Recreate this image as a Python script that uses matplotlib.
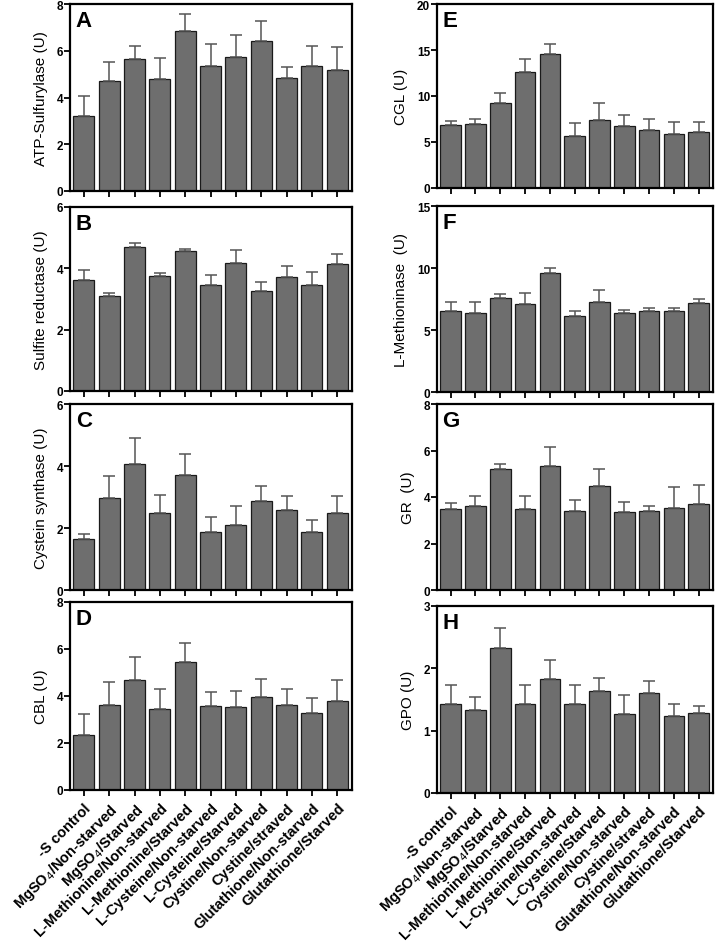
import matplotlib
matplotlib.use("Agg")
import matplotlib.pyplot as plt
import numpy as np

plt.rcParams["font.family"] = ["Liberation Sans", "DejaVu Sans"]

categories = [
    "-S control",
    "MgSO$_4$/Non-starved",
    "MgSO$_4$/Starved",
    "L-Methionine/Non-starved",
    "L-Methionine/Starved",
    "L-Cysteine/Non-starved",
    "L-Cysteine/Starved",
    "Cystine/Non-starved",
    "Cystine/straved",
    "Glutathione/Non-starved",
    "Glutathione/Starved",
]

# means and upper error bar tops
atp_mean = [3.20, 4.69, 5.66, 4.79, 6.83, 5.34, 5.73, 6.40, 4.84, 5.34, 5.16]
atp_top = [4.08, 5.51, 6.22, 5.69, 7.59, 6.29, 6.69, 7.29, 5.32, 6.22, 6.15]

sir_mean = [3.63, 3.10, 4.71, 3.75, 4.56, 3.45, 4.18, 3.26, 3.73, 3.45, 4.14]
sir_top = [3.95, 3.20, 4.82, 3.85, 4.63, 3.77, 4.59, 3.57, 4.06, 3.89, 4.47]

cs_mean = [1.65, 2.97, 4.08, 2.48, 3.70, 1.88, 2.11, 2.86, 2.59, 1.88, 2.50]
cs_top = [1.80, 3.67, 4.89, 3.05, 4.39, 2.36, 2.71, 3.35, 3.03, 2.27, 3.03]

cbl_mean = [2.32, 3.60, 4.69, 3.46, 5.43, 3.58, 3.53, 3.97, 3.60, 3.26, 3.77]
cbl_top = [3.23, 4.58, 5.65, 4.30, 6.24, 4.15, 4.20, 4.74, 4.31, 3.90, 4.67]

cgl_mean = [6.90, 6.93, 9.22, 12.56, 14.52, 5.70, 7.44, 6.79, 6.28, 5.92, 6.06]
cgl_top = [7.26, 7.51, 10.31, 14.01, 15.68, 7.08, 9.26, 7.95, 7.55, 7.19, 7.22]

met_mean = [6.54, 6.41, 7.59, 7.11, 9.57, 6.16, 7.22, 6.38, 6.51, 6.57, 7.14]
met_top = [7.22, 7.27, 7.92, 7.97, 9.97, 6.57, 8.22, 6.62, 6.81, 6.81, 7.51]

gr_mean = [3.47, 3.60, 5.21, 3.47, 5.34, 3.38, 4.47, 3.37, 3.40, 3.51, 3.71]
gr_top = [3.75, 4.03, 5.40, 4.05, 6.16, 3.87, 5.19, 3.80, 3.62, 4.41, 4.51]

gpo_mean = [1.43, 1.33, 2.33, 1.43, 1.83, 1.43, 1.63, 1.26, 1.60, 1.23, 1.29]
gpo_top = [1.73, 1.54, 2.64, 1.73, 2.14, 1.73, 1.84, 1.57, 1.79, 1.43, 1.40]

W, H = 720, 945


def rect(left, right, top, bottom):
    return [left / W, 1 - bottom / H, (right - left) / W, (bottom - top) / H]


panels = [
    # letter, ylabel, mean, top, ymax, ystep, axes rect, show x labels
    ("A", "ATP-Sulfurylase (U)", atp_mean, atp_top, 8, 2, rect(70, 352, 5, 192), False),
    ("B", "Sulfite reductase (U)", sir_mean, sir_top, 6, 2, rect(70, 352, 208, 392), False),
    ("C", "Cystein synthase (U)", cs_mean, cs_top, 6, 2, rect(70, 352, 405, 591), False),
    ("D", "CBL (U)", cbl_mean, cbl_top, 8, 2, rect(70, 352, 603, 791), True),
    ("E", "CGL (U)", cgl_mean, cgl_top, 20, 5, rect(437, 713, 5, 189), False),
    ("F", "L-Methioninase  (U)", met_mean, met_top, 15, 5, rect(437, 713, 207, 393), False),
    ("G", "GR  (U)", gr_mean, gr_top, 8, 2, rect(437, 713, 405, 591), False),
    ("H", "GPO (U)", gpo_mean, gpo_top, 3, 1, rect(437, 713, 607, 794), True),
]

fig = plt.figure(figsize=(W / 100, H / 100), dpi=100, facecolor="white")

x = np.arange(len(categories))
for letter, ylabel, mean, top, ymax, ystep, pos, show_x in panels:
    ax = fig.add_axes(pos)
    mean = np.array(mean)
    err = np.array(top) - mean
    ax.bar(x, mean, width=0.83, color="#6e6e6e", edgecolor="#1a1a1a", linewidth=0.9, zorder=2)
    ax.errorbar(x, mean, yerr=[np.zeros_like(err), err], fmt="none", ecolor="#555555",
                elinewidth=1.1, capsize=4, capthick=1.1, zorder=3)
    ax.set_xlim(-0.55, len(categories) - 0.42)
    ax.set_ylim(0, ymax)
    ax.set_yticks(np.arange(0, ymax + 0.01, ystep))
    ax.set_xticks(x)
    for s in ax.spines.values():
        s.set_linewidth(1.6)
        s.set_color("black")
    ax.tick_params(axis="both", direction="out", length=4, width=1.3, colors="black")
    for lab in ax.get_yticklabels():
        lab.set_fontweight("bold")
        lab.set_fontsize(8.5)
    ax.tick_params(axis="y", pad=1)
    if show_x:
        ax.set_xticklabels(categories, rotation=45, ha="right", rotation_mode="anchor",
                           fontsize=10.5, fontweight="bold")
    else:
        ax.set_xticklabels([])
    ax.set_ylabel(ylabel, fontsize=11, labelpad=6)
    ax.text(0.02, 0.97, letter, transform=ax.transAxes, fontsize=16, fontweight="bold",
            ha="left", va="top")

fig.savefig("out.png", dpi=100, facecolor="white")
